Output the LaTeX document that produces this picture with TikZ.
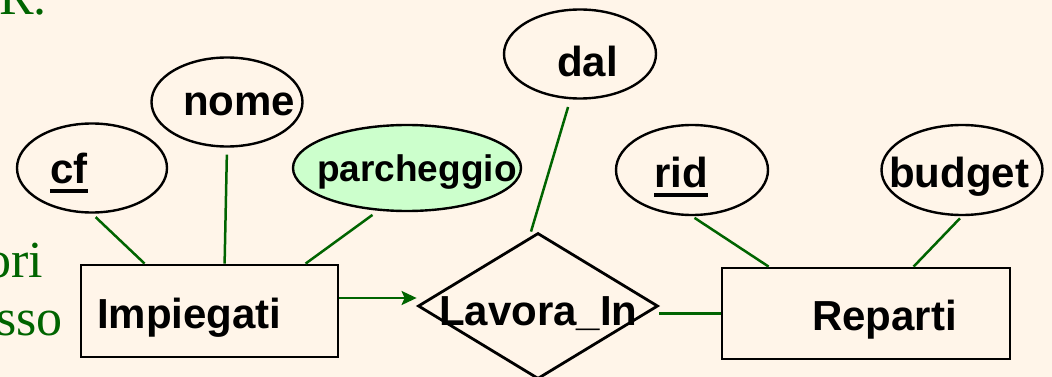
\documentclass[tikz,border=0pt]{standalone}
\usepackage{fontspec}
\setmainfont{Liberation Sans}
\newfontfamily\greenserif{Liberation Serif}
\usetikzlibrary{shapes.geometric,arrows.meta}
\definecolor{bgcream}{HTML}{FFF5E9}
\definecolor{dgreen}{HTML}{006400}
\definecolor{lgreen}{HTML}{CCFFCC}
\newcommand\keyul[1]{\setbox0\hbox{#1}\rlap{\rule[-10pt]{\wd0}{4pt}}\box0}
\begin{document}
\begin{tikzpicture}[x=1pt,y=-1pt,
  attr/.style={ellipse,draw=black,line width=2.4pt,inner sep=0pt},
  entity/.style={rectangle,draw=black,line width=2.8pt,inner sep=0pt},
  rel/.style={diamond,draw=black,line width=2.8pt,inner sep=0pt},
  lbl/.style={anchor=base west,inner sep=0pt,font=\fontsize{42}{48}\selectfont\bfseries},
  side/.style={anchor=base east,inner sep=0pt,text=dgreen,font=\fontsize{52}{60}\selectfont\greenserif},
  conn/.style={draw=dgreen,line width=2.5pt}]
\fill[bgcream] (0,0) rectangle (1052,377);
\useasboundingbox (0,0) rectangle (1052,377);

% clipped slide text on the left
\node[side] (t1) at (47,15) {R.};
\node[side] (t2) at (43,277) {ori};
\node[side] (t3) at (63,335) {sso};

% entities and relationship
\node[entity,minimum width=257pt,minimum height=92pt] (imp) at (209.5,311) {};
\node[entity,minimum width=288pt,minimum height=91pt] (rep) at (866,313.5) {};
\node[rel,minimum width=240pt,minimum height=146pt] (lw) at (538,306) {};

% attributes
\node[attr,minimum width=150pt,minimum height=89pt] (cf) at (92,168) {};
\node[attr,minimum width=151pt,minimum height=89pt] (nome) at (227,102) {};
\node[attr,fill=lgreen,minimum width=228pt,minimum height=86pt] (parch) at (407,168) {};
\node[attr,minimum width=152pt,minimum height=89pt] (dal) at (580,54) {};
\node[attr,minimum width=152pt,minimum height=90pt] (rid) at (692,170) {};
\node[attr,minimum width=161pt,minimum height=90pt] (budget) at (962,170) {};

% labels
\node[lbl] (imp-t) at (97,328) {Impiegati};
\node[lbl] (rep-t) at (812,330) {Reparti};
\node[lbl] (lw-t) at (439,325) {Lavora\_In};
\node[lbl] (cf-t) at (50,183) {\keyul{cf}};
\node[lbl] (nome-t) at (183,116) {nome};
\node[lbl,font=\fontsize{37}{44}\selectfont\bfseries] (parch-t) at (317,182) {parcheggio};
\node[lbl] (dal-t) at (557,77) {dal};
\node[lbl] (rid-t) at (654,187) {\keyul{rid}};
\node[lbl] (budget-t) at (889,187) {budget};

% connectors
\draw[conn,shorten <=5pt] (cf.south) -- ([xshift=65pt]imp.north west);
\draw[conn,shorten <=7pt] (nome.south) -- ([xshift=145pt]imp.north west);
\draw[conn,shorten <=7pt] (parch.236) -- ([xshift=226pt]imp.north west);
\draw[conn,shorten <=8pt] (dal.258) -- ([xshift=-7pt]lw.north);
\draw[conn,shorten <=3pt] (rid.south) -- ([xshift=48pt]rep.north west);
\draw[conn,shorten <=3pt] (budget.south) -- ([xshift=193pt]rep.north west);
\draw[conn,-{Stealth[length=15pt,width=14pt,inset=3pt]}] ([yshift=13pt]imp.east) -- ([yshift=13pt]imp.east -| lw.west);
\draw[conn] (lw.east |- rep.west) -- (rep.west);
\end{tikzpicture}
\end{document}
